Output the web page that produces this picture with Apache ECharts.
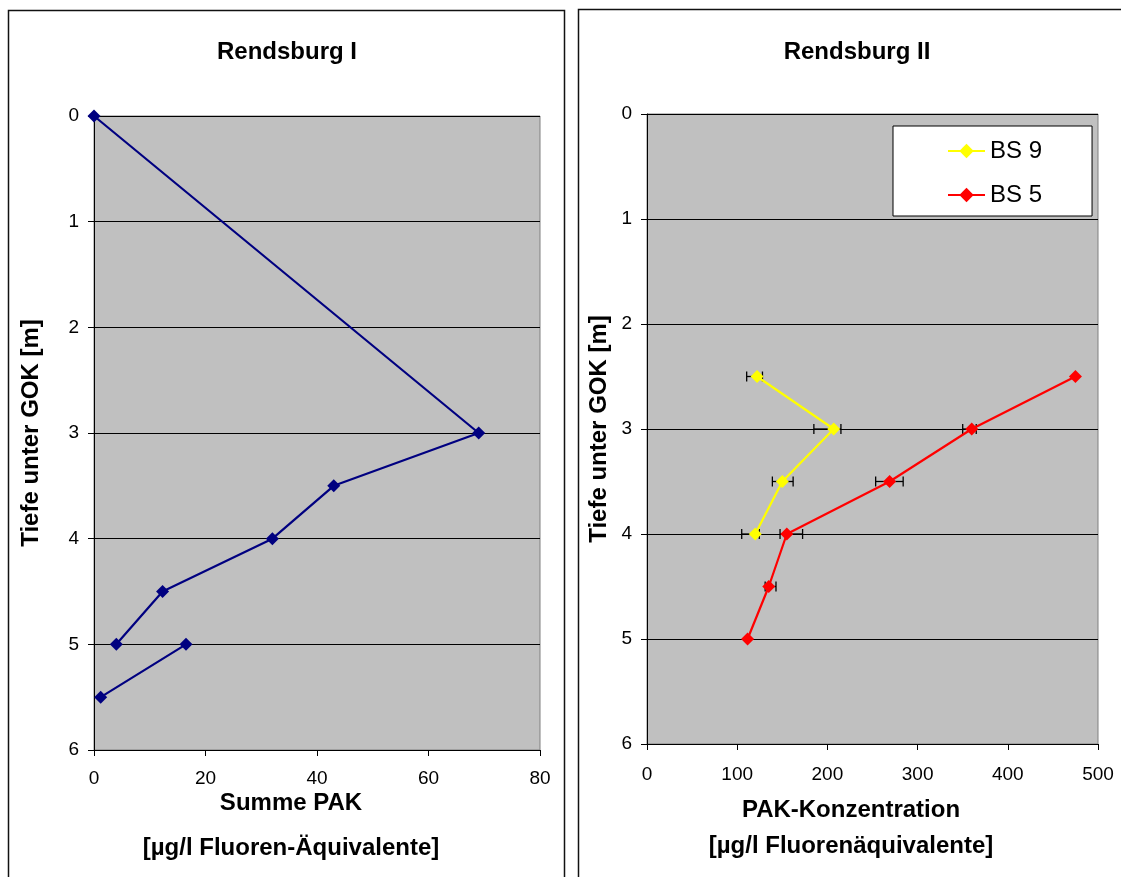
<!DOCTYPE html>
<html>
<head>
<meta charset="utf-8">
<script src="https://cdn.jsdelivr.net/npm/echarts@6/dist/echarts.min.js"></script>
<style>
  html, body { margin: 0; padding: 0; background: #fff; }
  #chart { width: 1121px; height: 877px; }
</style>
</head>
<body>
<div id="chart"></div>
<script>
// Rendsburg I: summed PAH concentration against depth (null breaks the line)
const rb1Pak   = [0, 69, 43, 32, 12.3, 4, null, 1.2, 16.5];
const rb1Depth = [0, 3, 3.5, 4, 4.5, 5, null, 5.5, 5];

// Rendsburg II: boreholes BS 9 and BS 5 with min/max ranges
const bs9Depth = [2.5, 3, 3.5, 4];
const bs9Pak   = [122, 207, 150, 120];
const bs9Low   = [110.5, 185, 139, 105];
const bs9High  = [128, 215, 162, 124.5];

const bs5Depth = [2.5, 3, 3.5, 4, 4.5, 5];
const bs5Pak   = [475, 360, 269, 155, 135, 111.5];
const bs5Low   = [null, 350, 253.5, 147.5, 131, null];
const bs5High  = [null, 365, 284, 172.5, 143, null];

const depthTicks = [0, 1, 2, 3, 4, 5, 6];

const FONT = "'Liberation Sans', Arial, sans-serif";

function pairs(xs, ys) {
  return xs.map((x, i) => (x === null || ys[i] === null) ? [null, null] : [x, ys[i]]);
}
function ranges(depth, low, high) {
  const out = [];
  depth.forEach((d, i) => {
    if (low[i] !== null && high[i] !== null) out.push([low[i], d, high[i]]);
  });
  return out;
}

function errorBars(params, api) {
  const d = api.value(1);
  const p1 = api.coord([api.value(0), d]);
  const p2 = api.coord([api.value(2), d]);
  const cap = 5;
  const style = { stroke: '#000', lineWidth: 1.3 };
  return {
    type: 'group',
    children: [
      { type: 'line', shape: { x1: p1[0], y1: p1[1], x2: p2[0], y2: p2[1] }, style },
      { type: 'line', shape: { x1: p1[0], y1: p1[1] - cap, x2: p1[0], y2: p1[1] + cap }, style },
      { type: 'line', shape: { x1: p2[0], y1: p2[1] - cap, x2: p2[0], y2: p2[1] + cap }, style }
    ]
  };
}

function depthAxis(gridIndex, nameGap) {
  return {
    type: 'value', gridIndex, inverse: true, min: 0, max: 6, interval: 1,
    name: 'Tiefe unter GOK [m]', nameLocation: 'middle', nameRotate: 90, nameGap,
    nameTextStyle: { fontFamily: FONT, fontSize: 24, fontWeight: 'bold', color: '#000' },
    axisLine: { show: true, lineStyle: { color: '#000', width: 1 } },
    axisTick: { show: true, length: 6, lineStyle: { color: '#000' } },
    axisLabel: { fontFamily: FONT, fontSize: 19, color: '#000', margin: 15,
                 formatter: v => depthTicks.includes(v) ? String(v) : '' },
    splitLine: { show: true, lineStyle: { color: '#000', width: 1 } }
  };
}

function pakAxis(gridIndex, max, interval, margin) {
  return {
    type: 'value', gridIndex, min: 0, max, interval,
    axisLine: { show: true, onZero: false, lineStyle: { color: '#000', width: 1 } },
    axisTick: { show: true, length: 6, lineStyle: { color: '#000' } },
    axisLabel: { fontFamily: FONT, fontSize: 19, color: '#000', margin },
    splitLine: { show: false }
  };
}

function text(x, y, str, size, weight) {
  return { type: 'text', x, y, z: 10,
           style: { text: str, font: `${weight} ${size}px ${FONT}`, fill: '#000',
                    textAlign: 'center', textVerticalAlign: 'middle' } };
}

const chart = echarts.init(document.getElementById('chart'), null, { renderer: 'canvas' });

chart.setOption({
  backgroundColor: '#fff',
  animation: false,
  graphic: [
    { type: 'rect', shape: { x: 8.5, y: 10.5, width: 556, height: 900 },
      style: { fill: 'none', stroke: '#111', lineWidth: 1.5 }, z: -1 },
    { type: 'rect', shape: { x: 578.5, y: 9.5, width: 600, height: 900 },
      style: { fill: 'none', stroke: '#111', lineWidth: 1.5 }, z: -1 },
    text(287, 52, 'Rendsburg I', 24, 'bold'),
    text(857, 52, 'Rendsburg II', 24, 'bold'),
    text(291, 803, 'Summe PAK', 24, 'bold'),
    text(291, 848, '[µg/l Fluoren-Äquivalente]', 24, 'bold'),
    text(851, 810, 'PAK-Konzentration', 24, 'bold'),
    text(851, 846, '[µg/l Fluorenäquivalente]', 24, 'bold')
  ],
  grid: [
    { left: 94, top: 116, width: 446, height: 634, show: true,
      backgroundColor: '#C0C0C0', borderColor: '#808080', borderWidth: 1 },
    { left: 647, top: 114, width: 451, height: 630, show: true,
      backgroundColor: '#C0C0C0', borderColor: '#808080', borderWidth: 1 }
  ],
  xAxis: [pakAxis(0, 80, 20, 19), pakAxis(1, 500, 100, 21)],
  yAxis: [depthAxis(0, 51), depthAxis(1, 36)],
  legend: {
    data: ['BS 9', 'BS 5'],
    orient: 'vertical', left: 893, top: 126,
    backgroundColor: '#fff', borderColor: '#000', borderWidth: 1,
    padding: [11, 50, 7, 54],
    itemWidth: 37, itemHeight: 18, itemGap: 16,
    lineStyle: { width: 2 },
    textStyle: { fontFamily: FONT, fontSize: 24, color: '#000', lineHeight: 28 }
  },
  series: [
    { name: 'Rendsburg I', type: 'line', xAxisIndex: 0, yAxisIndex: 0,
      data: pairs(rb1Pak, rb1Depth), connectNulls: false,
      symbol: 'diamond', symbolSize: 13, z: 3,
      itemStyle: { color: '#000080' }, lineStyle: { color: '#000080', width: 2.2 } },
    { name: 'BS 9 range', type: 'custom', xAxisIndex: 1, yAxisIndex: 1, z: 2,
      data: ranges(bs9Depth, bs9Low, bs9High), renderItem: errorBars },
    { name: 'BS 5 range', type: 'custom', xAxisIndex: 1, yAxisIndex: 1, z: 2,
      data: ranges(bs5Depth, bs5Low, bs5High), renderItem: errorBars },
    { name: 'BS 9', type: 'line', xAxisIndex: 1, yAxisIndex: 1,
      data: pairs(bs9Pak, bs9Depth), symbol: 'diamond', symbolSize: 13, z: 3,
      itemStyle: { color: '#FFFF00' }, lineStyle: { color: '#FFFF00', width: 2.2 } },
    { name: 'BS 5', type: 'line', xAxisIndex: 1, yAxisIndex: 1,
      data: pairs(bs5Pak, bs5Depth), symbol: 'diamond', symbolSize: 13, z: 3,
      itemStyle: { color: '#FF0000' }, lineStyle: { color: '#FF0000', width: 2.2 } }
  ]
});
</script>
</body>
</html>
